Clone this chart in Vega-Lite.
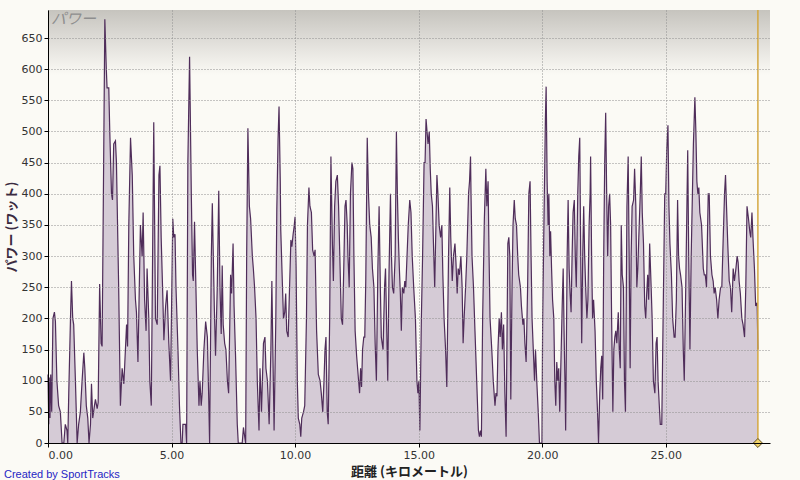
{
  "$schema": "https://vega.github.io/schema/vega-lite/v6.json",
  "width": 722,
  "height": 433,
  "autosize": "none",
  "padding": {"left": 48, "top": 10, "right": 30, "bottom": 37},
  "background": "#fbfaf5",
  "config": {
    "font": "DejaVu Sans",
    "view": {
      "stroke": null,
      "fill": {
        "gradient": "linear",
        "x1": 0, "y1": 0, "x2": 0, "y2": 1,
        "stops": [
          {"offset": 0, "color": "#c6c4be"},
          {"offset": 0.05, "color": "#d8d6d1"},
          {"offset": 0.15, "color": "#fbfaf5"},
          {"offset": 1, "color": "#fbfaf5"}
        ]
      }
    }
  },
  "title": {
    "text": "Created by SportTracks",
    "orient": "bottom",
    "anchor": "start",
    "frame": "group",
    "dx": -44,
    "offset": -9,
    "font": "Liberation Sans",
    "fontSize": 11,
    "fontWeight": "normal",
    "color": "#2626c4"
  },
  "datasets": {
    "one": [{}],
    "power": [
      {"d":0.00,"p":110},{"d":0.03,"p":30},{"d":0.05,"p":105},{"d":0.08,"p":40},{"d":0.11,"p":110},{"d":0.15,"p":50},{"d":0.20,"p":200},{"d":0.26,"p":210},{"d":0.30,"p":195},{"d":0.36,"p":100},{"d":0.43,"p":60},{"d":0.50,"p":50},{"d":0.57,"p":0},{"d":0.64,"p":0},{"d":0.70,"p":30},{"d":0.77,"p":20},{"d":0.80,"p":0},{"d":0.84,"p":80},{"d":0.91,"p":200},{"d":0.95,"p":260},{"d":1.00,"p":200},{"d":1.04,"p":190},{"d":1.11,"p":100},{"d":1.18,"p":0},{"d":1.24,"p":30},{"d":1.31,"p":50},{"d":1.38,"p":100},{"d":1.45,"p":145},{"d":1.49,"p":120},{"d":1.55,"p":60},{"d":1.61,"p":40},{"d":1.66,"p":0},{"d":1.72,"p":30},{"d":1.76,"p":95},{"d":1.81,"p":40},{"d":1.88,"p":60},{"d":1.92,"p":70},{"d":1.99,"p":55},{"d":2.03,"p":65},{"d":2.09,"p":255},{"d":2.15,"p":160},{"d":2.19,"p":155},{"d":2.30,"p":680},{"d":2.36,"p":600},{"d":2.39,"p":570},{"d":2.46,"p":570},{"d":2.50,"p":500},{"d":2.57,"p":400},{"d":2.61,"p":390},{"d":2.66,"p":480},{"d":2.73,"p":485},{"d":2.77,"p":450},{"d":2.86,"p":250},{"d":2.93,"p":60},{"d":3.00,"p":120},{"d":3.07,"p":95},{"d":3.11,"p":130},{"d":3.18,"p":190},{"d":3.22,"p":155},{"d":3.27,"p":350},{"d":3.34,"p":490},{"d":3.41,"p":430},{"d":3.47,"p":300},{"d":3.54,"p":230},{"d":3.58,"p":210},{"d":3.64,"p":130},{"d":3.74,"p":350},{"d":3.81,"p":300},{"d":3.85,"p":370},{"d":3.91,"p":230},{"d":3.97,"p":180},{"d":4.01,"p":280},{"d":4.08,"p":200},{"d":4.12,"p":100},{"d":4.18,"p":60},{"d":4.28,"p":515},{"d":4.35,"p":200},{"d":4.42,"p":190},{"d":4.49,"p":430},{"d":4.53,"p":445},{"d":4.58,"p":330},{"d":4.65,"p":230},{"d":4.69,"p":165},{"d":4.76,"p":220},{"d":4.82,"p":245},{"d":4.89,"p":160},{"d":4.96,"p":100},{"d":5.05,"p":360},{"d":5.09,"p":330},{"d":5.14,"p":335},{"d":5.18,"p":250},{"d":5.26,"p":150},{"d":5.32,"p":60},{"d":5.38,"p":0},{"d":5.43,"p":0},{"d":5.46,"p":30},{"d":5.57,"p":30},{"d":5.61,"p":0},{"d":5.66,"p":450},{"d":5.73,"p":620},{"d":5.80,"p":400},{"d":5.85,"p":270},{"d":5.88,"p":260},{"d":5.93,"p":355},{"d":5.97,"p":280},{"d":6.04,"p":150},{"d":6.11,"p":60},{"d":6.15,"p":100},{"d":6.20,"p":60},{"d":6.24,"p":80},{"d":6.31,"p":150},{"d":6.38,"p":195},{"d":6.45,"p":170},{"d":6.50,"p":80},{"d":6.54,"p":0},{"d":6.61,"p":300},{"d":6.65,"p":385},{"d":6.69,"p":300},{"d":6.73,"p":220},{"d":6.78,"p":140},{"d":6.85,"p":250},{"d":6.91,"p":405},{"d":6.96,"p":250},{"d":7.01,"p":175},{"d":7.05,"p":285},{"d":7.09,"p":190},{"d":7.15,"p":160},{"d":7.20,"p":150},{"d":7.26,"p":100},{"d":7.31,"p":80},{"d":7.39,"p":270},{"d":7.43,"p":240},{"d":7.49,"p":320},{"d":7.53,"p":220},{"d":7.59,"p":140},{"d":7.66,"p":30},{"d":7.70,"p":0},{"d":7.86,"p":0},{"d":7.91,"p":25},{"d":7.96,"p":10},{"d":8.00,"p":0},{"d":8.04,"p":300},{"d":8.09,"p":505},{"d":8.15,"p":380},{"d":8.20,"p":360},{"d":8.27,"p":300},{"d":8.31,"p":280},{"d":8.36,"p":250},{"d":8.42,"p":200},{"d":8.47,"p":100},{"d":8.54,"p":20},{"d":8.58,"p":120},{"d":8.64,"p":50},{"d":8.72,"p":160},{"d":8.78,"p":170},{"d":8.82,"p":120},{"d":8.88,"p":100},{"d":8.95,"p":30},{"d":9.02,"p":150},{"d":9.06,"p":260},{"d":9.10,"p":150},{"d":9.15,"p":20},{"d":9.22,"p":200},{"d":9.26,"p":374},{"d":9.31,"p":487},{"d":9.35,"p":540},{"d":9.40,"p":420},{"d":9.42,"p":342},{"d":9.49,"p":250},{"d":9.53,"p":200},{"d":9.58,"p":210},{"d":9.62,"p":240},{"d":9.66,"p":180},{"d":9.72,"p":170},{"d":9.83,"p":326},{"d":9.87,"p":315},{"d":9.92,"p":335},{"d":9.96,"p":347},{"d":10.00,"p":363},{"d":10.04,"p":283},{"d":10.09,"p":100},{"d":10.13,"p":40},{"d":10.19,"p":30},{"d":10.23,"p":10},{"d":10.27,"p":40},{"d":10.34,"p":50},{"d":10.39,"p":60},{"d":10.46,"p":200},{"d":10.50,"p":350},{"d":10.56,"p":410},{"d":10.60,"p":380},{"d":10.66,"p":370},{"d":10.71,"p":310},{"d":10.77,"p":300},{"d":10.81,"p":310},{"d":10.87,"p":180},{"d":10.94,"p":110},{"d":11.01,"p":100},{"d":11.06,"p":80},{"d":11.12,"p":50},{"d":11.17,"p":100},{"d":11.21,"p":150},{"d":11.25,"p":170},{"d":11.30,"p":50},{"d":11.34,"p":30},{"d":11.40,"p":200},{"d":11.45,"p":460},{"d":11.51,"p":320},{"d":11.55,"p":260},{"d":11.60,"p":380},{"d":11.65,"p":420},{"d":11.71,"p":430},{"d":11.76,"p":380},{"d":11.81,"p":300},{"d":11.87,"p":200},{"d":11.92,"p":190},{"d":11.98,"p":300},{"d":12.02,"p":380},{"d":12.06,"p":390},{"d":12.11,"p":350},{"d":12.14,"p":300},{"d":12.19,"p":250},{"d":12.24,"p":400},{"d":12.30,"p":450},{"d":12.34,"p":440},{"d":12.38,"p":300},{"d":12.43,"p":180},{"d":12.49,"p":140},{"d":12.53,"p":120},{"d":12.57,"p":100},{"d":12.61,"p":80},{"d":12.65,"p":120},{"d":12.69,"p":90},{"d":12.73,"p":150},{"d":12.78,"p":170},{"d":12.82,"p":170},{"d":12.86,"p":260},{"d":12.92,"p":490},{"d":12.97,"p":400},{"d":13.02,"p":350},{"d":13.08,"p":330},{"d":13.13,"p":280},{"d":13.19,"p":250},{"d":13.24,"p":160},{"d":13.29,"p":100},{"d":13.35,"p":280},{"d":13.40,"p":380},{"d":13.45,"p":250},{"d":13.49,"p":170},{"d":13.56,"p":150},{"d":13.62,"p":250},{"d":13.66,"p":280},{"d":13.70,"p":200},{"d":13.75,"p":100},{"d":13.80,"p":270},{"d":13.86,"p":400},{"d":13.90,"p":300},{"d":13.94,"p":250},{"d":13.99,"p":240},{"d":14.05,"p":300},{"d":14.10,"p":500},{"d":14.14,"p":400},{"d":14.18,"p":330},{"d":14.22,"p":280},{"d":14.26,"p":240},{"d":14.30,"p":180},{"d":14.34,"p":250},{"d":14.40,"p":240},{"d":14.44,"p":260},{"d":14.48,"p":250},{"d":14.53,"p":300},{"d":14.58,"p":350},{"d":14.64,"p":390},{"d":14.69,"p":370},{"d":14.74,"p":300},{"d":14.80,"p":250},{"d":14.87,"p":200},{"d":14.93,"p":100},{"d":14.97,"p":80},{"d":15.01,"p":100},{"d":15.05,"p":20},{"d":15.11,"p":200},{"d":15.16,"p":300},{"d":15.22,"p":450},{"d":15.26,"p":450},{"d":15.30,"p":520},{"d":15.34,"p":500},{"d":15.38,"p":480},{"d":15.43,"p":500},{"d":15.47,"p":440},{"d":15.51,"p":400},{"d":15.56,"p":380},{"d":15.60,"p":320},{"d":15.65,"p":250},{"d":15.70,"p":350},{"d":15.74,"p":430},{"d":15.78,"p":400},{"d":15.83,"p":350},{"d":15.89,"p":330},{"d":15.94,"p":350},{"d":15.98,"p":270},{"d":16.03,"p":200},{"d":16.09,"p":150},{"d":16.14,"p":90},{"d":16.21,"p":300},{"d":16.26,"p":410},{"d":16.30,"p":330},{"d":16.36,"p":260},{"d":16.41,"p":300},{"d":16.47,"p":320},{"d":16.51,"p":290},{"d":16.56,"p":240},{"d":16.60,"p":280},{"d":16.65,"p":270},{"d":16.71,"p":300},{"d":16.76,"p":250},{"d":16.80,"p":160},{"d":16.84,"p":200},{"d":16.90,"p":250},{"d":16.95,"p":300},{"d":17.02,"p":400},{"d":17.06,"p":420},{"d":17.10,"p":460},{"d":17.12,"p":400},{"d":17.16,"p":300},{"d":17.22,"p":250},{"d":17.28,"p":180},{"d":17.35,"p":100},{"d":17.42,"p":20},{"d":17.46,"p":10},{"d":17.50,"p":20},{"d":17.54,"p":10},{"d":17.59,"p":200},{"d":17.66,"p":360},{"d":17.72,"p":440},{"d":17.76,"p":380},{"d":17.81,"p":420},{"d":17.85,"p":300},{"d":17.89,"p":200},{"d":17.96,"p":150},{"d":18.02,"p":100},{"d":18.09,"p":60},{"d":18.13,"p":80},{"d":18.17,"p":75},{"d":18.21,"p":150},{"d":18.26,"p":200},{"d":18.30,"p":170},{"d":18.35,"p":210},{"d":18.39,"p":150},{"d":18.44,"p":190},{"d":18.49,"p":80},{"d":18.54,"p":10},{"d":18.61,"p":320},{"d":18.65,"p":330},{"d":18.69,"p":300},{"d":18.73,"p":70},{"d":18.78,"p":250},{"d":18.82,"p":350},{"d":18.87,"p":390},{"d":18.91,"p":360},{"d":18.96,"p":350},{"d":19.01,"p":300},{"d":19.05,"p":270},{"d":19.12,"p":250},{"d":19.16,"p":220},{"d":19.22,"p":190},{"d":19.26,"p":200},{"d":19.30,"p":160},{"d":19.35,"p":130},{"d":19.41,"p":250},{"d":19.46,"p":400},{"d":19.51,"p":420},{"d":19.55,"p":300},{"d":19.59,"p":200},{"d":19.64,"p":150},{"d":19.69,"p":100},{"d":19.73,"p":150},{"d":19.78,"p":100},{"d":19.84,"p":50},{"d":19.89,"p":0},{"d":19.99,"p":0},{"d":20.02,"p":200},{"d":20.07,"p":350},{"d":20.13,"p":520},{"d":20.16,"p":572},{"d":20.20,"p":420},{"d":20.24,"p":350},{"d":20.27,"p":400},{"d":20.31,"p":300},{"d":20.34,"p":340},{"d":20.38,"p":280},{"d":20.42,"p":230},{"d":20.47,"p":200},{"d":20.51,"p":100},{"d":20.55,"p":60},{"d":20.59,"p":130},{"d":20.63,"p":100},{"d":20.67,"p":120},{"d":20.71,"p":50},{"d":20.77,"p":150},{"d":20.81,"p":220},{"d":20.85,"p":280},{"d":20.89,"p":170},{"d":20.93,"p":80},{"d":20.95,"p":20},{"d":21.01,"p":300},{"d":21.05,"p":390},{"d":21.09,"p":280},{"d":21.13,"p":240},{"d":21.17,"p":210},{"d":21.21,"p":300},{"d":21.25,"p":370},{"d":21.30,"p":390},{"d":21.34,"p":300},{"d":21.38,"p":250},{"d":21.44,"p":400},{"d":21.48,"p":460},{"d":21.52,"p":490},{"d":21.56,"p":300},{"d":21.60,"p":160},{"d":21.64,"p":300},{"d":21.68,"p":380},{"d":21.72,"p":300},{"d":21.76,"p":250},{"d":21.81,"p":200},{"d":21.85,"p":230},{"d":21.90,"p":350},{"d":21.94,"p":400},{"d":21.96,"p":460},{"d":22.00,"p":300},{"d":22.04,"p":200},{"d":22.08,"p":230},{"d":22.14,"p":180},{"d":22.19,"p":100},{"d":22.24,"p":50},{"d":22.28,"p":0},{"d":22.33,"p":80},{"d":22.37,"p":120},{"d":22.41,"p":140},{"d":22.45,"p":70},{"d":22.49,"p":300},{"d":22.53,"p":450},{"d":22.57,"p":530},{"d":22.61,"p":400},{"d":22.65,"p":300},{"d":22.69,"p":380},{"d":22.73,"p":400},{"d":22.77,"p":350},{"d":22.81,"p":200},{"d":22.86,"p":50},{"d":22.90,"p":150},{"d":22.94,"p":170},{"d":22.98,"p":180},{"d":23.02,"p":160},{"d":23.08,"p":210},{"d":23.12,"p":150},{"d":23.16,"p":120},{"d":23.20,"p":350},{"d":23.24,"p":270},{"d":23.29,"p":250},{"d":23.33,"p":100},{"d":23.37,"p":50},{"d":23.43,"p":380},{"d":23.48,"p":460},{"d":23.52,"p":300},{"d":23.56,"p":120},{"d":23.60,"p":300},{"d":23.64,"p":380},{"d":23.70,"p":390},{"d":23.74,"p":440},{"d":23.79,"p":380},{"d":23.83,"p":250},{"d":23.87,"p":280},{"d":23.91,"p":330},{"d":23.97,"p":400},{"d":24.01,"p":460},{"d":24.05,"p":370},{"d":24.10,"p":320},{"d":24.15,"p":220},{"d":24.19,"p":200},{"d":24.23,"p":240},{"d":24.27,"p":270},{"d":24.31,"p":230},{"d":24.35,"p":320},{"d":24.41,"p":250},{"d":24.45,"p":200},{"d":24.50,"p":100},{"d":24.56,"p":80},{"d":24.61,"p":160},{"d":24.65,"p":170},{"d":24.69,"p":100},{"d":24.74,"p":60},{"d":24.78,"p":30},{"d":24.84,"p":30},{"d":24.91,"p":250},{"d":24.96,"p":400},{"d":25.00,"p":400},{"d":25.04,"p":470},{"d":25.09,"p":510},{"d":25.13,"p":380},{"d":25.17,"p":320},{"d":25.23,"p":270},{"d":25.28,"p":200},{"d":25.34,"p":170},{"d":25.38,"p":170},{"d":25.43,"p":230},{"d":25.48,"p":390},{"d":25.52,"p":300},{"d":25.56,"p":280},{"d":25.60,"p":270},{"d":25.66,"p":250},{"d":25.71,"p":150},{"d":25.75,"p":100},{"d":25.81,"p":250},{"d":25.85,"p":360},{"d":25.89,"p":470},{"d":25.93,"p":300},{"d":25.98,"p":150},{"d":26.03,"p":300},{"d":26.08,"p":400},{"d":26.12,"p":480},{"d":26.18,"p":555},{"d":26.22,"p":500},{"d":26.26,"p":420},{"d":26.30,"p":400},{"d":26.34,"p":410},{"d":26.38,"p":370},{"d":26.45,"p":350},{"d":26.52,"p":280},{"d":26.56,"p":270},{"d":26.60,"p":270},{"d":26.65,"p":250},{"d":26.72,"p":400},{"d":26.76,"p":400},{"d":26.81,"p":300},{"d":26.87,"p":270},{"d":26.92,"p":260},{"d":26.96,"p":240},{"d":27.00,"p":250},{"d":27.06,"p":230},{"d":27.11,"p":200},{"d":27.16,"p":230},{"d":27.22,"p":250},{"d":27.27,"p":250},{"d":27.32,"p":320},{"d":27.38,"p":400},{"d":27.42,"p":430},{"d":27.46,"p":380},{"d":27.51,"p":320},{"d":27.57,"p":260},{"d":27.62,"p":250},{"d":27.67,"p":210},{"d":27.73,"p":280},{"d":27.78,"p":260},{"d":27.84,"p":280},{"d":27.89,"p":300},{"d":27.93,"p":290},{"d":27.97,"p":260},{"d":28.02,"p":240},{"d":28.08,"p":200},{"d":28.13,"p":190},{"d":28.19,"p":170},{"d":28.24,"p":250},{"d":28.29,"p":380},{"d":28.35,"p":360},{"d":28.40,"p":340},{"d":28.44,"p":330},{"d":28.49,"p":370},{"d":28.53,"p":330},{"d":28.59,"p":280},{"d":28.64,"p":220},{"d":28.70,"p":225},{"d":28.73,"p":150}
    ]
  },
  "layer": [
    {
      "data": {"name": "power"},
      "mark": {
        "type": "area",
        "color": "#d5cbd6",
        "opacity": 1,
        "line": {"color": "#4f2d5a", "strokeWidth": 1.2}
      },
      "encoding": {
        "x": {
          "field": "d",
          "type": "quantitative",
          "title": "距離 (キロメートル)",
          "scale": {"domain": [0, 29.22], "nice": false, "zero": false},
          "axis": {
            "values": [0, 5, 10, 15, 20, 25],
            "format": ".2f",
            "grid": true,
            "gridDash": [1, 2],
            "gridColor": "#8f8f8f",
            "domainColor": "#000000",
            "tickColor": "#000000",
            "tickSize": 4,
            "labelColor": "#333333",
            "labelFontSize": 11,
            "labelPadding": 2,
            "titleFont": "Noto Sans CJK JP",
            "titleFontSize": 13,
            "titleFontWeight": "bold",
            "titleColor": "#222222",
            "titlePadding": 5,
            "zindex": 1
          }
        },
        "y": {
          "field": "p",
          "type": "quantitative",
          "title": "パワー (ワット)",
          "scale": {"domain": [0, 695], "nice": false},
          "axis": {
            "values": [0, 50, 100, 150, 200, 250, 300, 350, 400, 450, 500, 550, 600, 650],
            "labelOverlap": false,
            "grid": true,
            "gridDash": [1, 2],
            "gridColor": "#8f8f8f",
            "domainColor": "#000000",
            "tickColor": "#000000",
            "tickSize": 4,
            "labelColor": "#333333",
            "labelFontSize": 11,
            "labelPadding": 2,
            "titleFont": "Noto Sans CJK JP",
            "titleFontSize": 13,
            "titleFontWeight": "bold",
            "titleColor": "#3a2a40",
            "titlePadding": 3,
            "zindex": 1
          }
        }
      }
    },
    {
      "data": {"name": "one"},
      "mark": {
        "type": "text",
        "text": "パワー",
        "align": "left",
        "baseline": "top",
        "dx": 3,
        "dy": 2,
        "font": "Noto Sans CJK JP",
        "fontSize": 15,
        "fontStyle": "italic",
        "color": "#8e8e8e"
      },
      "encoding": {
        "x": {"datum": 0, "type": "quantitative", "axis": {"values": [0, 5, 10, 15, 20, 25]}},
        "y": {"datum": 695, "type": "quantitative", "axis": {"values": [0, 50, 100, 150, 200, 250, 300, 350, 400, 450, 500, 550, 600, 650]}}
      }
    },
    {
      "data": {"name": "one"},
      "mark": {"type": "rule", "color": "#d4a842", "strokeWidth": 1.5},
      "encoding": {
        "x": {"datum": 28.73, "type": "quantitative", "axis": {"values": [0, 5, 10, 15, 20, 25]}}
      }
    },
    {
      "data": {"name": "one"},
      "mark": {
        "type": "point",
        "shape": "diamond",
        "filled": true,
        "size": 80,
        "fill": "#f2d46a",
        "stroke": "#5e4c1e",
        "strokeWidth": 1,
        "opacity": 1
      },
      "encoding": {
        "x": {"datum": 28.73, "type": "quantitative", "axis": {"values": [0, 5, 10, 15, 20, 25]}},
        "y": {"datum": 0, "type": "quantitative", "axis": {"values": [0, 50, 100, 150, 200, 250, 300, 350, 400, 450, 500, 550, 600, 650]}}
      }
    }
  ]
}
